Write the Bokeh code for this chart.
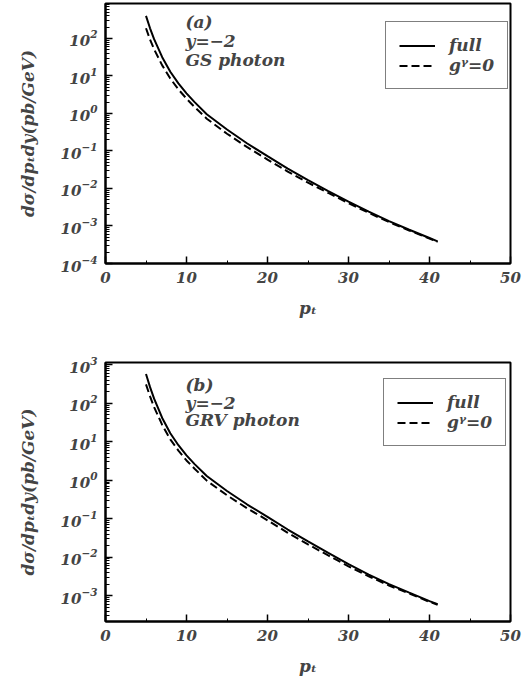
from bokeh.plotting import figure
from bokeh.layouts import column
from bokeh.models import Label, FixedTicker, Range1d, Legend, LegendItem
from bokeh.embed import file_html
from bokeh.resources import INLINE

# ---- data ----
pt = [5, 5.5, 6, 7, 8, 9, 10, 11, 12.5, 15, 17.5, 20, 22.5, 25, 27.5, 30, 32.5, 35, 37.5, 40, 41]

gs_full = [398, 186, 95.5, 31.6, 12.9, 6.31, 3.43, 2.00, 0.955, 0.372, 0.158, 0.0724,
           0.0339, 0.0166, 0.00851, 0.00447, 0.00240, 0.00135, 0.000794, 0.000479, 0.000389]
gs_g0 = [186, 93.3, 51.3, 19.1, 8.51, 4.37, 2.48, 1.48, 0.724, 0.288, 0.126, 0.0589,
         0.0282, 0.0143, 0.00759, 0.00407, 0.00224, 0.00127, 0.000759, 0.000462, 0.000376]

grv_full = [575, 263, 132, 41.7, 16.6, 8.13, 4.42, 2.63, 1.29, 0.525, 0.234, 0.112,
            0.0525, 0.0257, 0.0129, 0.00661, 0.00355, 0.00200, 0.00120, 0.000724, 0.000603]
grv_g0 = [309, 151, 79.4, 27.5, 11.5, 5.89, 3.27, 2.00, 0.977, 0.407, 0.186, 0.0912,
          0.0432, 0.0216, 0.0111, 0.00582, 0.00320, 0.00184, 0.00114, 0.000692, 0.000582]

x_ticks = [0, 10, 20, 30, 40, 50]
panel_a_text = ["(a)", "y=\u22122", "GS photon"]
panel_b_text = ["(b)", "y=\u22122", "GRV photon"]
legend_labels = ["full", "g\u1d5e=0"]
y_label = "d\u03c3/dp\u209cdy(pb/GeV)"
x_label = "p\u209c"

FONT = "DejaVu Serif"


def make_panel(full, g0, texts, text_y, y_lo_exp, y_hi_exp, decades, height, top, bottom, leg_loc):
    p = figure(width=525, height=height, output_backend="svg", toolbar_location=None,
               y_axis_type="log", x_range=Range1d(0, 50),
               y_range=Range1d(10 ** y_lo_exp, 10 ** y_hi_exp),
               min_border_left=105, min_border_right=15,
               min_border_top=top, min_border_bottom=bottom)
    p.grid.visible = False
    p.outline_line_color = "black"
    p.outline_line_width = 2
    p.background_fill_color = "white"
    p.border_fill_color = "white"

    major = [10.0 ** k for k in decades]
    minor = [m * 10.0 ** k for k in range(decades[0] - 1, decades[-1] + 1) for m in range(2, 10)]
    p.yaxis.ticker = FixedTicker(ticks=major, minor_ticks=minor)
    p.xaxis.ticker = FixedTicker(ticks=x_ticks, minor_ticks=[5, 15, 25, 35, 45])

    for ax in (p.xaxis[0], p.yaxis[0]):
        ax.axis_line_width = 2
        ax.major_tick_in = 7
        ax.major_tick_out = 0
        ax.minor_tick_in = 4
        ax.minor_tick_out = 0
        ax.major_tick_line_width = 1.5
        ax.major_label_text_font = FONT
        ax.major_label_text_font_style = "bold italic"
        ax.major_label_text_font_size = "15px"
        ax.axis_label_text_font = FONT
        ax.axis_label_text_font_style = "bold italic"
        ax.axis_label_text_font_size = "17px"
        ax.major_label_standoff = 8
    p.xaxis.minor_tick_in = 3
    p.yaxis.axis_label = y_label
    p.xaxis.axis_label = x_label
    p.yaxis.axis_label_standoff = 20
    p.xaxis.axis_label_standoff = 12

    r1 = p.line(pt, full, line_color="black", line_width=2)
    r2 = p.line(pt, g0, line_color="black", line_width=2, line_dash="8 4")

    leg = Legend(items=[LegendItem(label=legend_labels[0], renderers=[r1]),
                        LegendItem(label=legend_labels[1], renderers=[r2])],
                 location=leg_loc)
    leg.border_line_color = "black"
    leg.border_line_width = 1.5
    leg.background_fill_alpha = 1
    leg.label_text_font = FONT
    leg.label_text_font_style = "bold italic"
    leg.label_text_font_size = "17px"
    leg.glyph_width = 36
    leg.glyph_height = 19
    leg.label_height = 19
    leg.label_standoff = 14
    leg.spacing = 0
    leg.padding = 13
    leg.margin = 0
    p.add_layout(leg)

    for t, yy in zip(texts, text_y):
        p.add_layout(Label(x=80, y=yy, x_units="screen", y_units="screen",
                           text=t, text_font=FONT, text_font_style="bold italic",
                           text_font_size="17px", text_baseline="middle"))
    return p


pa = make_panel(gs_full, gs_g0, panel_a_text, [242, 223, 204], -4, 2.93, list(range(-4, 3)),
                330, 3, 67, (280, 174))
pb = make_panel(grv_full, grv_g0, panel_b_text, [237, 219, 202], -3.67, 3.06, list(range(-3, 4)),
                348, 32, 55, (278, 175))

layout = column(pa, pb, spacing=0)
open("out.html", "w").write(file_html(layout, INLINE))
